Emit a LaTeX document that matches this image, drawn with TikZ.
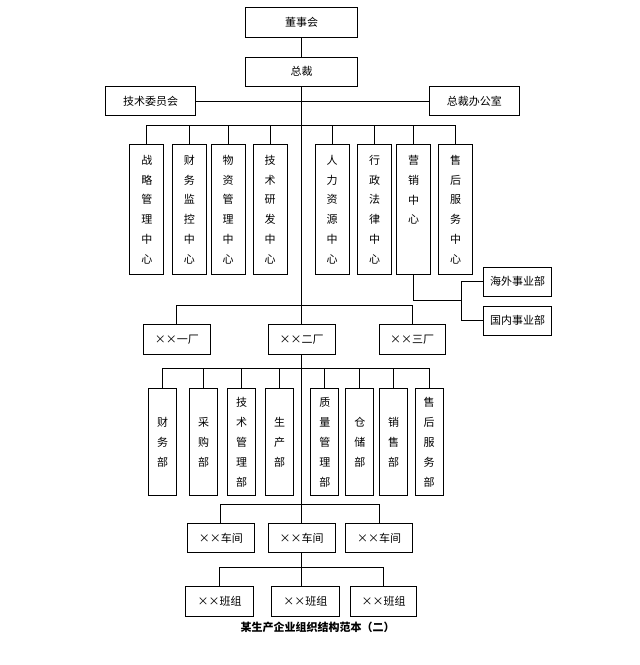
\documentclass[tikz,border=0pt]{standalone}
\usepackage{fontspec}
\newfontfamily\cjk{Noto Sans CJK SC}
\usepackage{tikz}
\usetikzlibrary{positioning}

\begin{document}
\begin{tikzpicture}[x=1pt, y=-1pt, line width=0.8pt,
    hbox/.style={draw, rectangle, inner sep=0pt, font=\cjk\fontsize{11}{13}\selectfont}, % 横向きの箱
    vbox/.style={draw, rectangle, inner sep=0pt, minimum width=34pt, minimum height=130.4pt, align=center, font=\cjk\fontsize{11}{19.7}\selectfont},
    dbox/.style={draw, rectangle, inner sep=0pt, minimum width=28pt, minimum height=107.4pt, align=center, font=\cjk\fontsize{11}{20}\selectfont}
    ]
\useasboundingbox (0,0) rectangle (640,665);

% top
\node[hbox, minimum width=111.6pt, minimum height=30pt] (dsh) at (301.5,22.3) {董事会};
\node[hbox, minimum width=111.6pt, minimum height=28.7pt] (zc) at (301.5,71.7) {总裁};
\node[hbox, minimum width=90.4pt, minimum height=29pt] (jswy) at (150.5,101.2) {技术委员会};
\node[hbox, minimum width=90pt, minimum height=29pt] (zcbg) at (474.3,101.2) {总裁办公室};
\draw (dsh) -- (zc);
\draw (jswy.east) -- (zcbg.west);

% centers
\coordinate (busA) at (301.5,125);
\foreach \x/\n/\t in {146.8/zx1/{战\\略\\管\\理\\中\\心}, 189.3/zx2/{财\\务\\监\\控\\中\\心},
    228.2/zx3/{物\\资\\管\\理\\中\\心}, 270/zx4/{技\\术\\研\\发\\中\\心},
    332.2/zx5/{人\\力\\资\\源\\中\\心}, 374.5/zx6/{行\\政\\法\\律\\中\\心},
    413.7/zx7/{营\\销\\中\\心\\~\\~}, 455.7/zx8/{售\\后\\服\\务\\中\\心}}{
  \node[vbox] (\n) at (\x,209.5) {\t};
  \draw (\n.north) |- (busA);
}

\node[hbox, minimum width=68pt, minimum height=29pt] (hw) at (517.7,281.5) {海外事业部};
\node[hbox, minimum width=68pt, minimum height=29.7pt] (gn) at (517.7,320.8) {国内事业部};
\coordinate (yxj) at (461.7,300);
\draw (zx7.south) |- (yxj);
\draw (hw.west) -| (yxj);
\draw (gn.west) -| (yxj);

% factories
\node[hbox, minimum width=67pt, minimum height=29.7pt] (c1) at (176.8,339.2) {××一厂};
\node[hbox, minimum width=67pt, minimum height=29.7pt] (c2) at (301.5,339.2) {××二厂};
\node[hbox, minimum width=66pt, minimum height=29.7pt] (c3) at (412,339.2) {××三厂};
\coordinate (busB) at (301.5,305);
\draw (zc.south) -- (c2.north);
\draw (c1.north) |- (busB);
\draw (c3.north) |- (busB);

% departments
\coordinate (busC) at (301.5,368.3);
\foreach \x/\n/\t in {162.5/bm1/{财\\务\\部}, 203.5/bm2/{采\\购\\部},
    241.5/bm3/{技\\术\\管\\理\\部}, 279.7/bm4/{生\\产\\部},
    324.8/bm5/{质\\量\\管\\理\\部}, 359.8/bm6/{仓\\储\\部},
    393.5/bm7/{销\\售\\部}, 429/bm8/{售\\后\\服\\务\\部}}{
  \node[dbox] (\n) at (\x,442) {\t};
  \draw (\n.north) |- (busC);
}

% workshops
\node[hbox, minimum width=67pt, minimum height=29pt] (cj1) at (220.8,537.8) {××车间};
\node[hbox, minimum width=67pt, minimum height=29pt] (cj2) at (301.5,537.8) {××车间};
\node[hbox, minimum width=67pt, minimum height=29pt] (cj3) at (379,537.8) {××车间};
\coordinate (busD) at (301.5,504.3);
\draw (c2.south) -- (cj2.north);
\draw (cj1.north) |- (busD);
\draw (cj3.north) |- (busD);

% teams
\node[hbox, minimum width=67.5pt, minimum height=29.3pt] (bz1) at (219.5,601.3) {××班组};
\node[hbox, minimum width=67.5pt, minimum height=29.3pt] (bz2) at (305.3,601.3) {××班组};
\node[hbox, minimum width=66.5pt, minimum height=29.3pt] (bz3) at (383.5,601.3) {××班组};
\coordinate (busE) at (301.5,567.3);
\draw (cj2.south) -- (cj2.south |- bz2.north);
\draw (bz1.north) |- (busE);
\draw (bz3.north) |- (busE);

\node[font=\cjk\bfseries\fontsize{11}{13}\selectfont] (title) at (317.7,627) {某生产企业组织结构范本（二）};
\end{tikzpicture}
\end{document}
